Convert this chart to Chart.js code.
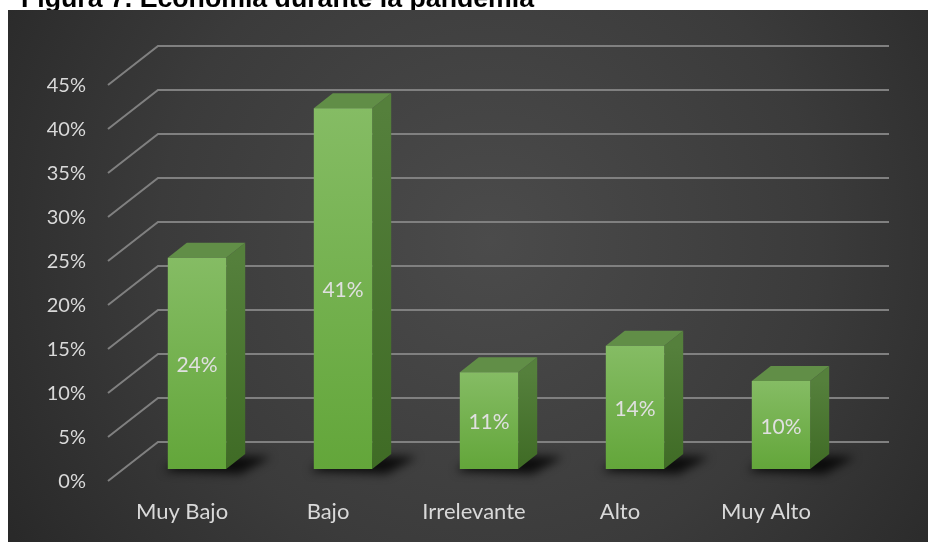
<!DOCTYPE html>
<html>
<head>
<meta charset="utf-8">
<script src="https://cdn.jsdelivr.net/npm/chart.js@4.4.1/dist/chart.umd.min.js"></script>
<style>
  html, body { margin: 0; background: #fff; }
  canvas { display: block; }
</style>
</head>
<body>
<canvas id="chart" width="928" height="542"></canvas>
<script>
const categories = ["Muy Bajo", "Bajo", "Irrelevante", "Alto", "Muy Alto"];
const shares = [24, 41, 11, 14, 10];
const tickValues = [0, 5, 10, 15, 20, 25, 30, 35, 40, 45];
const titleText = "Figura 7. Economía durante la pandemia";

(function () {
  const canvas = document.getElementById("chart");
  if (!canvas || typeof Chart === "undefined") return;

  const textColor = "#d9d9d9";
  const gridColor = "#808080";
  const font = "Lato, 'Open Sans', sans-serif";

  // bar box depth, and the floor depth between front axis and back wall
  const barDX = 19, barDY = -15;
  const wallDY = -27, frontDY = 12;

  function yPix(chart, v) {
    return chart.scales.y.getPixelForValue(v);
  }

  const scene = {
    id: "scene",
    beforeDraw(chart) {
      const ctx = chart.ctx;
      const area = chart.chartArea;
      ctx.save();
      ctx.fillStyle = "#fff";
      ctx.fillRect(0, 0, chart.width, chart.height);

      ctx.fillStyle = "#000";
      ctx.font = "bold 26.7px 'Liberation Sans', Arial, sans-serif";
      ctx.textBaseline = "alphabetic";
      ctx.fillText(titleText, 21, 7);

      const bg = ctx.createRadialGradient(490, 240, 0, 490, 240, 600);
      bg.addColorStop(0, "#4b4b4b");
      bg.addColorStop(0.55, "#3b3b3b");
      bg.addColorStop(1, "#262626");
      ctx.fillStyle = bg;
      ctx.fillRect(8, 10, 920, 532);

      // back wall lines plus the slanted run down to the front axis
      ctx.strokeStyle = gridColor;
      ctx.lineWidth = 2;
      const xFront = area.left - 16;
      const xBack = area.left + 34;
      const xEnd = area.right + 35;
      tickValues.forEach(function (v) {
        const y = yPix(chart, v);
        ctx.beginPath();
        ctx.moveTo(xFront, y + frontDY);
        ctx.lineTo(xBack, y + wallDY);
        ctx.lineTo(xEnd, y + wallDY);
        ctx.stroke();
      });
      ctx.restore();
    },
    beforeDatasetsDraw(chart) {
      const ctx = chart.ctx;
      const meta = chart.getDatasetMeta(0);
      ctx.save();
      // soft floor shadows
      ctx.filter = "blur(5px)";
      ctx.fillStyle = "rgba(0,0,0,0.8)";
      meta.data.forEach(function (bar) {
        const l = bar.x - bar.width / 2, r = bar.x + bar.width / 2;
        const b = bar.base;
        ctx.beginPath();
        ctx.moveTo(l - 4, b + 2);
        ctx.lineTo(r + 14, b + 5);
        ctx.lineTo(r + barDX + 26, b + barDY + 3);
        ctx.lineTo(l + barDX, b + barDY);
        ctx.closePath();
        ctx.fill();
      });
      ctx.filter = "none";

      meta.data.forEach(function (bar) {
        const l = bar.x - bar.width / 2, r = bar.x + bar.width / 2;
        const t = bar.y, b = bar.base;

        const side = ctx.createLinearGradient(0, t, 0, b);
        side.addColorStop(0, "#55803c");
        side.addColorStop(1, "#3f6b25");
        ctx.fillStyle = side;
        ctx.beginPath();
        ctx.moveTo(r, t);
        ctx.lineTo(r + barDX, t + barDY);
        ctx.lineTo(r + barDX, b + barDY);
        ctx.lineTo(r, b);
        ctx.closePath();
        ctx.fill();

        ctx.fillStyle = "#618e47";
        ctx.beginPath();
        ctx.moveTo(l, t);
        ctx.lineTo(l + barDX, t + barDY);
        ctx.lineTo(r + barDX, t + barDY);
        ctx.lineTo(r, t);
        ctx.closePath();
        ctx.fill();
      });
      ctx.restore();
    },
    afterDatasetsDraw(chart) {
      const ctx = chart.ctx;
      const meta = chart.getDatasetMeta(0);
      ctx.save();
      ctx.fillStyle = "#e0e0e0";
      ctx.font = "21px " + font;
      ctx.textAlign = "center";
      ctx.textBaseline = "middle";
      meta.data.forEach(function (bar, i) {
        ctx.fillText(shares[i] + "%", bar.x, (bar.y + bar.base) / 2 + 2);
      });
      ctx.restore();
    },
  };

  new Chart(canvas, {
    type: "bar",
    data: {
      labels: categories,
      datasets: [
        {
          data: shares,
          backgroundColor: function (context) {
            const chart = context.chart;
            if (!chart.chartArea || context.parsed == null) return "#6fae49";
            const top = yPix(chart, context.parsed.y);
            const g = chart.ctx.createLinearGradient(0, top, 0, yPix(chart, 0));
            g.addColorStop(0, "#85bc64");
            g.addColorStop(1, "#63a63a");
            return g;
          },
          borderWidth: 0,
          barPercentage: 0.4,
          categoryPercentage: 1,
        },
      ],
    },
    options: {
      responsive: false,
      animation: false,
      layout: { padding: { left: 0, top: 73, right: 74, bottom: 0 } },
      plugins: {
        legend: { display: false },
        tooltip: { enabled: false },
      },
      scales: {
        x: {
          grid: { display: false, drawTicks: false },
          border: { display: false },
          ticks: {
            color: textColor,
            font: { family: font, size: 22 },
            padding: 30,
            labelOffset: -15,
            maxRotation: 0,
          },
          afterFit: function (scale) {
            scale.height = 73;
          },
        },
        y: {
          min: 0,
          max: 45,
          grid: { display: false, drawTicks: false },
          border: { display: false },
          ticks: {
            stepSize: 5,
            color: textColor,
            font: { family: font, size: 20 },
            padding: 38,
            labelOffset: 13,
            callback: function (value) {
              return value + "%";
            },
          },
          afterFit: function (scale) {
            scale.width = 124;
          },
        },
      },
    },
    plugins: [scene],
  });
})();
</script>
</body>
</html>
